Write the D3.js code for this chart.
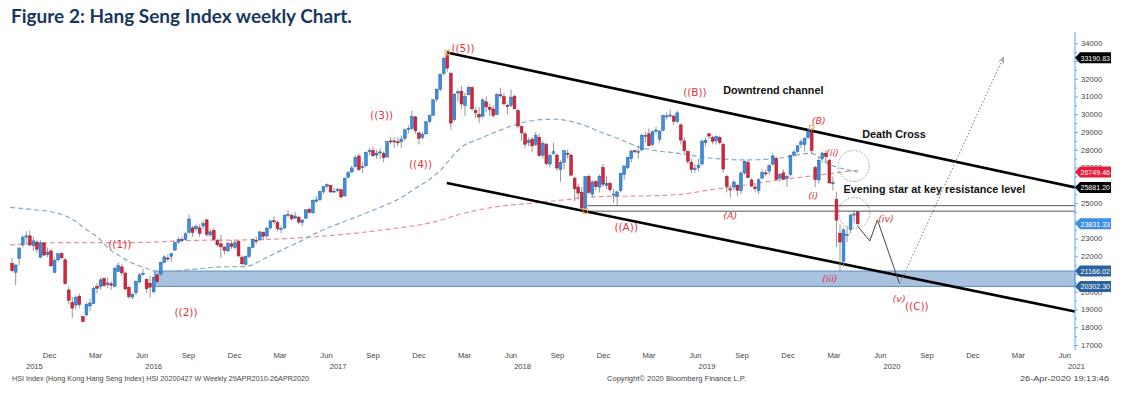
<!DOCTYPE html>
<html><head><meta charset="utf-8">
<script src="https://cdn.jsdelivr.net/npm/d3@7"></script>
<style>body{margin:0;background:#fff}svg{display:block;font-family:'Liberation Sans',Arial,sans-serif}</style>
</head><body><svg id="c" width="1130" height="396"></svg>
<script>
// ---------- DATA ----------
const firstWeek = "2015-09-25"; // weekly bars, [open, high, low, close]
const ohlc2015 = [[21600,21900,21100,21186],[21100,21560,20368,21506],[21880,22550,21500,22459],[22640,23200,22500,23067],[23080,23400,22700,23152],[23150,23450,22550,22640],[22600,23100,22300,22867],[22800,22900,22200,22397],[21950,22900,21900,22755],[22750,22800,22000,22068],[22100,22500,21950,22236],[22300,22400,21400,21464],[21100,21900,21050,21756],[21800,22200,21700,22139],[22150,22200,21850,21914]];
const ohlc2016 = [[21800,21900,20400,20454],[20100,20300,19300,19521],[19400,19700,18534,19081],[19250,19800,19000,19683],[19750,19900,19100,19289],[18600,18650,18278,18320],[18700,19400,18600,19286],[19200,19600,18900,19364],[19350,20300,19300,20176],[20300,20500,19900,20199],[20300,20800,20100,20672],[20750,20800,20300,20346],[20400,20800,20200,20499],[20450,20600,20100,20370],[20300,21400,20250,21316],[21150,21650,21100,21467],[21400,21550,20900,21067],[21050,21150,20100,20156],[20250,20350,19600,19719],[19700,19950,19600,19852],[19950,20650,19800,20577],[20550,21050,20500,20947],[21000,21300,20900,21043],[20700,20750,19950,20170],[20480,20900,19694,20259],[20000,20850,19900,20794],[20950,21000,20450,20564],[21000,21700,20900,21659],[21650,22050,21600,21964],[21900,22100,21700,21891],[22000,22200,21700,22146],[22350,22800,22300,22767],[22800,23100,22700,22937],[22950,23100,22800,22910],[22950,23350,22900,23267],[23350,24364,23300,24100],[23600,23700,23100,23336],[23550,23800,23400,23686],[23600,23800,23100,23297],[23700,24000,23500,23852],[24050,24100,23100,23233],[23200,23550,23100,23374],[23450,23600,22900,22955],[22900,23000,22500,22642],[22700,23200,21900,22531],[22500,22600,22100,22344],[22300,22800,22250,22724],[22700,22900,22400,22565],[22500,22900,22400,22761],[22850,22900,21950,22021],[21950,22050,21500,21575],[21550,22050,21488,22001]];
const ohlc2017 = [[22000,22550,21900,22504],[22500,23000,22450,22937],[22900,23100,22700,22885],[22950,23400,22850,23375],[23350,23400,22900,23129],[23150,23650,23000,23575],[23600,24000,23500,23995],[24000,24250,23800,23966],[23900,24000,23400,23553],[23550,23700,23300,23569],[23600,24350,23500,24310],[24300,24600,24200,24358],[24300,24400,24000,24112],[24150,24500,24100,24267],[24200,24300,23800,23925],[23900,24100,23700,24042],[24150,24650,24100,24615],[24650,24750,24400,24477],[24450,25200,24400,25156],[25100,25400,25000,25175],[25200,25700,25100,25639],[25650,25950,25500,25925],[25950,26100,25800,26030],[26000,26000,25550,25626],[25650,25850,25600,25670],[25700,25850,25600,25765],[25750,25800,25250,25341],[25400,26450,25350,26389],[26450,26800,26400,26706],[26750,27100,26700,26979],[27050,27700,27000,27563],[27650,27800,26800,26884],[27000,27300,26700,27048],[27100,27900,27000,27848],[27900,28100,27700,27953],[27950,28150,27600,27668],[27700,28000,27500,27808],[27850,28100,27500,27880],[27800,27900,27300,27554],[27600,28500,27550,28458],[28500,28700,28300,28477],[28500,28700,28100,28487],[28450,28700,28200,28439],[28450,28800,28100,28604],[28650,29200,28500,29121],[29150,29400,28900,29199],[29200,30200,29100,29866],[29850,29900,28900,29074],[28950,29000,28300,28640],[28700,29000,28600,28848],[28900,29600,28850,29578],[29600,30000,29500,29919]];
const ohlc2018 = [[29950,30850,29900,30815],[30850,31450,30700,31413],[31400,32300,31300,32255],[32300,33250,32200,33154],[33300,33484,32400,32602],[32300,32400,29130,29507],[29700,31200,29600,31115],[31200,31400,30700,31268],[31300,31600,30300,30583],[30500,31200,29900,30996],[31100,31600,31100,31502],[31500,31600,30200,30309],[30200,30400,29800,30093],[30000,30400,29500,29845],[29900,30900,29800,30809],[30700,31000,30100,30418],[30400,30600,29900,30281],[30300,30500,29800,29927],[30000,31200,29950,31122],[31100,31500,30900,31048],[31000,31200,30500,30588],[30500,30600,30000,30493],[30500,31400,30400,30958],[31000,31100,30300,30309],[30200,30300,29200,29339],[29300,29400,28500,28955],[28900,29000,28100,28316],[28400,28700,28200,28525],[28600,28700,27900,28224],[28300,29000,28200,28804],[28700,28900,27600,27677],[27700,28500,27500,28367],[28300,28400,27100,27213],[27200,27800,27000,27672],[27800,28400,27700,27889],[27700,27800,26800,26973],[26900,27400,26200,27286],[27300,27950,26900,27954],[27800,28000,27500,27789],[27700,27800,26500,26573],[26400,26500,25100,25801],[25900,26100,25200,25561],[25600,25900,24600,24718],[24700,26500,24541,26486],[26500,26600,25500,25601],[25500,26300,25300,26184],[26200,26300,25700,25928],[25900,26600,25600,26507],[27000,27200,25900,26063],[26000,26500,25800,26095],[26100,26200,25600,25753],[25500,25800,25000,25504]];
const ohlc2019 = [[25400,25700,24896,25626],[25700,26700,25600,26667],[26600,27100,26300,27091],[27000,27600,26900,27570],[27500,28000,27300,27931],[27950,28000,27800,27946],[27900,28200,27500,27901],[28000,28900,27900,28816],[28800,29000,28400,28812],[28900,29200,28200,28228],[28300,29100,28200,29012],[29050,29300,28900,29113],[28600,29100,28400,29051],[29100,29950,29050,29936],[29900,30100,29700,29910],[29900,30280,29800,29963],[29900,30000,29400,29605],[29600,30200,29500,30082],[29400,29500,28300,28550],[28500,28700,27800,27946],[27900,28000,27200,27354],[27300,27500,26700,26901],[26900,27200,26700,26965],[27000,27500,26800,27118],[27200,28600,27100,28473],[28400,28700,28200,28543],[28900,28950,28600,28775],[28700,28800,28300,28471],[28500,28800,28300,28765],[28700,28800,28300,28397],[28300,28400,26700,26919],[26500,26600,25600,25939],[25800,26000,25300,25734],[25900,26300,25700,26179],[26000,26100,25400,25725],[25700,26800,25500,26691],[26700,27400,26600,27353],[27300,27400,26400,26435],[26300,26400,25900,25955],[25900,26100,25600,25821],[25700,26400,25500,26308],[26400,26900,26400,26720],[26700,26900,26500,26667],[26800,27200,26600,27101],[27200,27800,27100,27651],[27500,27600,26300,26327],[26400,26700,26200,26595],[26700,26900,26300,26346],[26400,26600,25900,26498],[26600,27700,26500,27688],[27700,28000,27600,27871],[27900,28250,27800,28225]];
const ohlc2020 = [[28300,28600,28100,28452],[28300,28700,27900,28638],[28700,29175,28600,29056],[29000,29250,27800,27950],[27000,27100,25900,26313],[26300,27600,26100,27404],[27500,27900,27300,27816],[27800,28000,27300,27609],[27400,27500,26100,26130],[26100,26500,25700,26146],[25200,25640,22520,24033],[23300,23800,21139,22805],[21700,23600,21400,23484],[23200,23700,22800,23236],[23500,24400,23300,24300],[24350,24600,23850,24380],[24500,24550,23700,23831]];

// moving averages: [date, value]
const ma50w = [["2015-09-21",24750],["2015-11-09",24620],["2015-12-25",24420],["2016-01-27",24000],["2016-02-20",23480],["2016-03-13",23050],["2016-04-06",22360],["2016-04-29",21950],["2016-05-21",21600],["2016-06-14",21350],["2016-07-08",21140],["2016-08-02",21150],["2016-09-11",21250],["2016-11-09",21400],["2016-12-29",21420],["2017-02-07",21890],["2017-03-12",22360],["2017-04-17",22840],["2017-05-17",23290],["2017-06-16",23660],["2017-07-22",24050],["2017-08-24",24420],["2017-09-26",24800],["2017-11-01",25280],["2017-12-01",25830],["2017-12-27",26300],["2018-01-20",26860],["2018-02-09",27520],["2018-02-28",28100],["2018-04-09",28650],["2018-05-19",29120],["2018-06-27",29500],["2018-08-06",29700],["2018-09-04",29720],["2018-10-04",29600],["2018-11-03",29350],["2018-12-02",29000],["2019-01-05",28650],["2019-02-14",28180],["2019-03-12",28000],["2019-05-06",27800],["2019-07-12",27520],["2019-09-15",27430],["2019-11-19",27520],["2020-01-22",27800],["2020-03-01",27150],["2020-03-31",26900],["2020-04-25",26750]];
const ma200w = [["2015-09-21",22640],["2016-01-11",22770],["2016-05-21",22770],["2016-09-30",22900],["2017-01-04",22920],["2017-05-17",23100],["2017-09-26",23480],["2018-01-09",23950],["2018-03-06",24420],["2018-05-12",24800],["2018-07-16",24980],["2018-09-19",25170],["2018-11-26",25360],["2019-03-01",25400],["2019-05-06",25480],["2019-07-12",25760],["2019-09-15",26017],["2019-11-19",26300],["2020-01-22",26520],["2020-03-31",26770],["2020-04-25",26850]];

// annotations
const upperChannel = [["2018-02-01",33484],["2021-06-28",25881.20]];
const lowerChannel = [["2018-02-01",26130],["2021-06-28",18890]];
const supportBand = {from:"2016-07-03", low:20302.30, high:21166.02};
const resistLines = [["2018-10-30",24541],["2018-11-06",24850]];
const projection = [["2020-04-24",23700],["2020-05-18",22860],["2020-06-02",24050],["2020-07-16",20440]];
const targetArrow = [["2020-07-16",20440],["2021-02-06",33190.83]];
const circles = [["2020-04-16",27087],["2020-04-17",24440]];
const markerDates = [["2018-02-02","h"],["2018-11-02","l"],["2020-01-23","h"]];
const waveLabels = [["((1))","2016-04-25",22637,false],["((2))","2016-09-03",18806,false],["((3))","2017-09-25",29905,false],["((4))","2017-12-11",27144,false],["((5))","2018-03-05",33679,false],["((A))","2019-01-22",23594,false],["((B))","2019-06-07",31200,false],["(A)","2019-08-16",24270,true],["(B)","2020-02-07",29623,true],["(i)","2020-01-27",25397,true],["(ii)","2020-03-05",27820,true],["(iii)","2020-02-29",20721,true],["(iv)","2020-06-19",24101,true],["(v)","2020-07-15",19594,true],["((C))","2020-08-19",19143,false]];
const noteLabels = [["Downtrend channel","2019-08-02",31369],["Death Cross","2020-05-03",28890],["Evening star at key resistance level","2020-03-27",25792]];
const priceTags = [[33190.83,"#000000"],[26749.46,"#e61c3a"],[25881.20,"#000000"],[23831.33,"#3d8fe6"],[21166.02,"#2a639e"],[20302.30,"#2a639e"]];
// tick labels fully hidden behind price tags in the original are left blank
const yTicks = [17000,18000,19000,20000,21000,22000,23000,24000,25000,26000,27000,28000,29000,30000,31000,32000,33000,34000];
const yTickHidden = [21000,24000,26000,33000];
const yearLabels = [["2015","2015-11-08"],["2016","2016-07-01"],["2017","2017-07-01"],["2018","2018-07-01"],["2019","2019-07-01"],["2020","2020-07-01"],["2021","2021-07-01"]];
const title = "Figure 2: Hang Seng Index weekly Chart.";
const footLeft = "HSI Index (Hong Kong Hang Seng Index) HSI 20200427 W  Weekly 29APR2010-26APR2020";
const footMid = "Copyright\u00a9 2020 Bloomberg Finance L.P.";
const footRight = "26-Apr-2020 19:13:46";

// ---------- CHART ----------
const P = d3.timeParse("%Y-%m-%d");
const svg = d3.select("#c");
const x = d3.scaleTime().domain([new Date(2015,11,1), new Date(2021,5,28)]).range([46,1075]);
const y = d3.scaleLinear().domain([17000,34000]).range([345,43.3]);
const start = P(firstWeek);
const bars = [].concat(ohlc2015,ohlc2016,ohlc2017,ohlc2018,ohlc2019,ohlc2020)
  .map((r,i)=>({d:d3.timeDay.offset(start,7*i),o:r[0],h:r[1],l:r[2],c:r[3]}));

svg.append("text").attr("x",11).attr("y",23).attr("fill","#17375e")
  .style("font-family","Lato, 'Open Sans', sans-serif").style("font-weight","bold").style("font-size","19px").text(title);

// support band
svg.append("rect").attr("x",x(P(supportBand.from))).attr("width",1075-x(P(supportBand.from)))
  .attr("y",y(supportBand.high)).attr("height",y(supportBand.low)-y(supportBand.high))
  .attr("fill","#a9c2e0").attr("stroke","#5a8cc6").attr("stroke-width",1);

// resistance horizontals
resistLines.forEach(r=>{
  svg.append("line").attr("x1",x(P(r[0]))).attr("x2",1075).attr("y1",y(r[1])).attr("y2",y(r[1]))
    .attr("stroke","#555").attr("stroke-width",1);
});

// moving averages
const lineGen = d3.line().x(d=>x(P(d[0]))).y(d=>y(d[1])).curve(d3.curveMonotoneX);
svg.append("path").attr("d",lineGen(ma200w)).attr("fill","none").attr("stroke","#e8909a").attr("stroke-width",1.2).attr("stroke-dasharray","5,3");
svg.append("path").attr("d",lineGen(ma50w)).attr("fill","none").attr("stroke","#86a9c8").attr("stroke-width",1.2).attr("stroke-dasharray","5,3");

// channel lines
const straight = d3.line().x(d=>x(P(d[0]))).y(d=>y(d[1]));
[upperChannel,lowerChannel].forEach(c=>svg.append("path").attr("d",straight(c)).attr("stroke","#000").attr("stroke-width",2.6).attr("fill","none"));

// candles
const g = svg.append("g");
bars.forEach(b=>{
  const cx = x(b.d), up = b.c>=b.o;
  g.append("line").attr("x1",cx).attr("x2",cx).attr("y1",y(b.h)).attr("y2",y(b.l)).attr("stroke","#8a8a8a").attr("stroke-width",0.9);
  const top = y(Math.max(b.o,b.c)), h = Math.max(1, Math.abs(y(b.o)-y(b.c)));
  g.append("rect").attr("x",cx-1.4).attr("width",2.8).attr("y",top).attr("height",h)
    .attr("fill", up?"#3d8fe0":"#d8253e").attr("stroke", up?"#1c5ea8":"#8e1726").attr("stroke-width",0.5);
});

// markers
markerDates.forEach(m=>{
  const b = bars.find(bb=>Math.abs(bb.d-P(m[0]))<4*864e5);
  if(!b) return;
  const yy = y(m[1]==="h"?b.h:b.l);
  svg.append("rect").attr("x",x(b.d)-2.2).attr("y",yy-2.2).attr("width",4.4).attr("height",4.4).attr("fill","none").attr("stroke","#f0a23a").attr("stroke-width",0.9);
});

// projection
svg.append("path").attr("d",straight(projection)).attr("fill","none").attr("stroke","#444").attr("stroke-width",1);
svg.append("defs").append("marker").attr("id","ah").attr("viewBox","0 0 10 10").attr("refX",9).attr("refY",5)
  .attr("markerWidth",6).attr("markerHeight",6).attr("orient","auto")
  .append("path").attr("d","M0,1 L9,5 L0,9").attr("fill","none").attr("stroke","#666").attr("stroke-width",1.3);
svg.append("path").attr("d",straight(targetArrow)).attr("fill","none").attr("stroke","#777").attr("stroke-width",1).attr("stroke-dasharray","1.5,2").attr("marker-end","url(#ah)");

// circles
circles.forEach(c=>svg.append("circle").attr("cx",x(P(c[0]))).attr("cy",y(c[1])).attr("r",15.5)
  .attr("fill","none").attr("stroke","#999").attr("stroke-width",1).attr("stroke-dasharray","1.5,1.5"));

// labels
waveLabels.forEach(l=>svg.append("text").attr("x",x(P(l[1]))).attr("y",y(l[2])+3.5).attr("text-anchor","middle")
  .attr("fill","#e2343e").style("font-family","'DejaVu Sans',sans-serif").style("font-size",l[3]?"9.5px":"10.5px")
  .style("font-style",l[3]?"italic":"normal").text(l[0]));
noteLabels.forEach(l=>svg.append("text").attr("x",x(P(l[1]))).attr("y",y(l[2])+4).attr("fill","#111")
  .style("font-weight","bold").style("font-size","10.8px").text(l[0]));

// y axis
svg.append("line").attr("x1",1075).attr("x2",1075).attr("y1",32).attr("y2",350).attr("stroke","#5aa6ee").attr("stroke-width",1);
const ya = svg.append("g").attr("transform","translate(1075,0)")
  .call(d3.axisRight(y).tickValues(yTicks).tickSize(3).tickPadding(3)
    .tickFormat(v=>yTickHidden.includes(v)?"":d3.format("d")(v)));
ya.select(".domain").remove();
ya.selectAll("line").attr("stroke","#5aa6ee");
ya.selectAll("text").attr("fill","#444").style("font-size","7.6px").style("font-family","'Liberation Sans',Arial,sans-serif");
const ym = svg.append("g").attr("transform","translate(1075,0)")
  .call(d3.axisRight(y).tickValues(yTicks.slice(0,-1).map(v=>v+500)).tickSize(2).tickFormat(""));
ym.select(".domain").remove(); ym.selectAll("line").attr("stroke","#5aa6ee");

// price tags
priceTags.forEach(t=>{
  const yy = y(t[0]);
  svg.append("path").attr("d",`M1075,${yy} L1080,${yy-5.5} L1111,${yy-5.5} L1111,${yy+5.5} L1080,${yy+5.5} Z`).attr("fill",t[1]);
  svg.append("text").attr("x",1080.5).attr("y",yy+3).attr("fill","#fff").style("font-size","7.8px")
    .attr("textLength",29.5).attr("lengthAdjust","spacingAndGlyphs").text(d3.format(".2f")(t[0]));
});

// x axis labels
const months = d3.timeMonths(new Date(2015,11,1), new Date(2021,6,1), 3);
const mf = d3.timeFormat("%b");
months.forEach(m=>svg.append("text").attr("x",x(d3.timeDay.offset(m,7))).attr("y",358).attr("text-anchor","middle")
  .attr("fill","#444").style("font-size","7.6px").text(mf(m)));
yearLabels.forEach(l=>svg.append("text").attr("x",x(P(l[1]))).attr("y",369).attr("text-anchor","middle")
  .attr("fill","#444").style("font-size","7.6px").text(l[0]));

svg.append("text").attr("x",12).attr("y",381).attr("fill","#444").style("font-size","7.2px").attr("textLength",297).attr("lengthAdjust","spacingAndGlyphs").text(footLeft);
svg.append("text").attr("x",607).attr("y",381).attr("fill","#444").style("font-size","7.2px").attr("textLength",139).attr("lengthAdjust","spacingAndGlyphs").text(footMid);
svg.append("text").attr("x",1020).attr("y",381).attr("fill","#444").style("font-size","7.2px").attr("textLength",89).attr("lengthAdjust","spacingAndGlyphs").text(footRight);
</script></body></html>
